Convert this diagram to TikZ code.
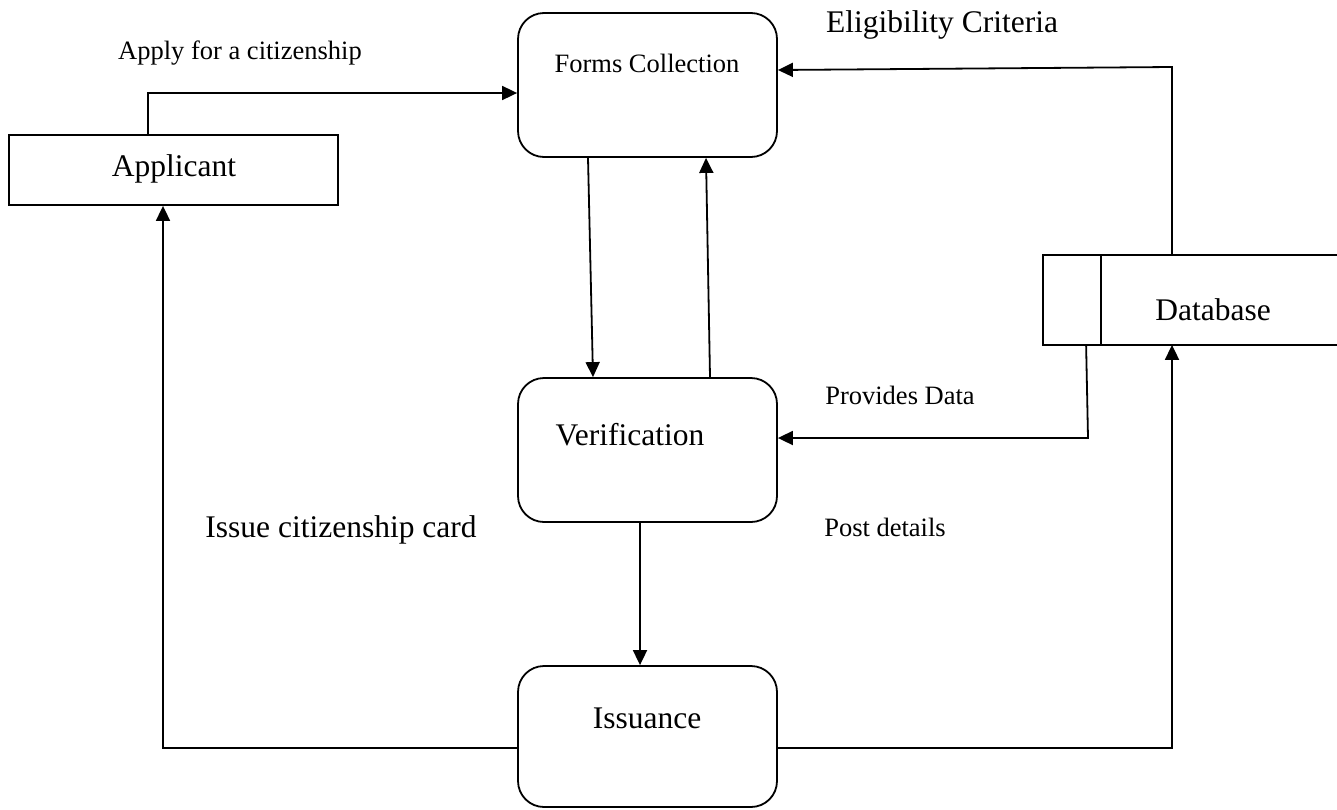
\documentclass[tikz,border=0pt]{standalone}
\usepackage{fontspec}
\setmainfont{Liberation Serif}
\usetikzlibrary{arrows.meta,calc}
\begin{document}
\begin{tikzpicture}[x=1pt,y=-1pt,
  line width=1.8pt,
  flow/.style={-{Triangle[length=15pt,width=14pt]}},
  proc/.style={draw,rounded corners=26pt,minimum width=259pt,minimum height=144pt,inner sep=0pt},
  ent/.style={draw,minimum width=329pt,minimum height=70pt,inner sep=0pt},
  big/.style={font=\fontsize{31.5}{36}\selectfont,inner sep=0pt},
  small/.style={font=\fontsize{26.5}{30}\selectfont,inner sep=0pt}]
\useasboundingbox (0,0) rectangle (1337,809);
% boxes
\node[ent] (app) at (173.5,170) {};
\node[big] (appT) at (174,169) {Applicant};
\node[proc] (forms) at (647.5,85) {};
\node[small] (formsT) at (647,63) {Forms Collection};
\node[proc] (verif) at (647.5,450) {};
\node[big] (verifT) at (630,435) {Verification};
\node[proc,minimum height=141pt] (iss) at (647.5,736.5) {};
\node[big] (issT) at (647,718) {Issuance};
\node[minimum width=293pt,minimum height=88pt,inner sep=0pt] (db) at (1190.5,300) {};
\draw (db.north east) -- (db.north west) -- (db.south west) -- (db.south east);
\draw ([xshift=58pt]db.north west) -- ([xshift=58pt]db.south west);
\node[big] (dbT) at (1213,310) {Database};
% labels
\node[small] (l1) at (240,53) {Apply for a citizenship};
\node[big] (l2) at (942,25) {Eligibility Criteria};
\node[small] (l3) at (900,395) {Provides Data};
\node[big] (l4) at (341,530) {Issue citizenship card};
\node[small] (l5) at (885,527) {Post details};
% connectors
\coordinate (c1) at (148,93);
\draw[flow] (app.north -| c1) -- (c1) -- (forms.west |- c1);
\coordinate (c2) at (1172,67);
\draw[flow] (db.north -| c2) -- (c2) -- ([yshift=15pt]forms.east);
\coordinate (c3) at (1088,438);
\draw[flow] ([xshift=43pt]db.south west) -- (c3) -- (verif.east |- c3);
\draw[flow] ([xshift=-59.5pt]forms.south) -- ([xshift=-54.5pt]verif.north);
\draw[flow] ([xshift=62.5pt]verif.north) -- ([xshift=58.5pt]forms.south);
\draw[flow] ([xshift=-7.5pt]verif.south) -- ([xshift=-7.5pt]iss.north);
\coordinate (c4) at (163,748);
\draw[flow] (iss.west |- c4) -- (c4) -- (app.south -| c4);
\coordinate (c5) at (1172,748);
\draw[flow] (iss.east |- c5) -- (c5) -- (db.south -| c5);
\end{tikzpicture}
\end{document}
